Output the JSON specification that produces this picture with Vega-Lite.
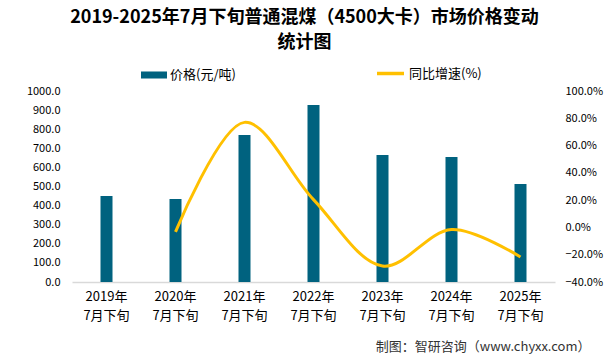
{
  "$schema": "https://vega.github.io/schema/vega-lite/v6.json",
  "width": 483,
  "height": 191,
  "autosize": {"type": "none"},
  "padding": {"left": 72, "top": 91, "right": 54, "bottom": 81},
  "background": "white",
  "config": {
    "view": {"stroke": null},
    "font": "Noto Sans CJK SC",
    "axis": {"labelFont": "Noto Sans CJK SC", "titleFont": "Noto Sans CJK SC"},
    "legend": {"labelFont": "Noto Sans CJK SC"}
  },
  "title": {
    "text": ["2019-2025年7月下旬普通混煤（4500大卡）市场价格变动", "统计图"],
    "fontSize": 18,
    "fontWeight": "bold",
    "color": "#000000",
    "lineHeight": 25,
    "anchor": "middle",
    "dx": -9,
    "offset": 6
  },
  "data": {
    "values": [
      {"period": "2019年7月下旬", "price": 450, "yoy": null},
      {"period": "2020年7月下旬", "price": 435, "yoy": -3.3},
      {"period": "2021年7月下旬", "price": 770, "yoy": 77.0},
      {"period": "2022年7月下旬", "price": 927, "yoy": 20.4},
      {"period": "2023年7月下旬", "price": 665, "yoy": -28.3},
      {"period": "2024年7月下旬", "price": 655, "yoy": -1.5},
      {"period": "2025年7月下旬", "price": 513, "yoy": -21.7}
    ]
  },
  "encoding": {
    "x": {
      "field": "period",
      "type": "nominal",
      "sort": null,
      "scale": {"paddingInner": 0, "paddingOuter": 0},
      "axis": {
        "title": "制图：智研咨询（www.chyxx.com）",
        "titleFontSize": 13,
        "titleFontWeight": "normal",
        "titleColor": "#333333",
        "titleAnchor": "end",
        "titleAlign": "right",
        "titleX": 518,
        "titleY": 58,
        "labelAngle": 0,
        "labelExpr": "[slice(datum.value,0,5), slice(datum.value,5)]",
        "labelFontSize": 13,
        "labelColor": "#000000",
        "labelLineHeight": 19,
        "labelPadding": 8,
        "ticks": false,
        "domainColor": "#D9D9D9",
        "domainWidth": 1.5,
        "grid": false
      }
    }
  },
  "layer": [
    {
      "mark": {"type": "bar", "size": 12},
      "encoding": {
        "y": {
          "field": "price",
          "type": "quantitative",
          "scale": {"domain": [0, 1000]},
          "axis": {
            "title": null,
            "values": [0,100,200,300,400,500,600,700,800,900,1000],
            "labelOverlap": false,
            "format": ".1f",
            "labelFontSize": 11,
            "labelColor": "#000000",
            "labelPadding": 12,
            "domain": false,
            "ticks": false,
            "grid": false
          }
        },
        "fill": {
          "datum": "价格(元/吨)",
          "type": "nominal",
          "scale": {"range": ["#00627F"]},
          "legend": {
            "title": null,
            "orient": "none",
            "legendX": 69,
            "legendY": -29,
            "symbolType": "M-1,-0.27H1V0.27H-1Z",
            "symbolSize": 676,
            "symbolStrokeWidth": 0,
            "labelFontSize": 13,
            "labelColor": "#000000",
            "labelOffset": 3
          }
        }
      }
    },
    {
      "mark": {"type": "line", "interpolate": "catmull-rom", "strokeWidth": 3},
      "transform": [{"filter": "datum.yoy != null"}],
      "encoding": {
        "y": {
          "field": "yoy",
          "type": "quantitative",
          "scale": {"domain": [-40, 100]},
          "axis": {
            "orient": "right",
            "title": null,
            "values": [-40,-20,0,20,40,60,80,100],
            "labelOverlap": false,
            "labelExpr": "format(datum.value,'.1f')+'%'",
            "labelFontSize": 11,
            "labelColor": "#000000",
            "labelPadding": 10,
            "domain": false,
            "ticks": false,
            "grid": false
          }
        },
        "stroke": {
          "datum": "同比增速(%)",
          "type": "nominal",
          "scale": {"range": ["#FFC000"]},
          "legend": {
            "title": null,
            "orient": "none",
            "legendX": 303,
            "legendY": -33,
            "symbolType": "stroke",
            "symbolSize": 729,
            "symbolStrokeWidth": 3.5,
            "labelFontSize": 13,
            "labelColor": "#000000",
            "labelOffset": 3
          }
        }
      }
    }
  ],
  "resolve": {"scale": {"y": "independent", "fill": "independent", "stroke": "independent"}}
}
